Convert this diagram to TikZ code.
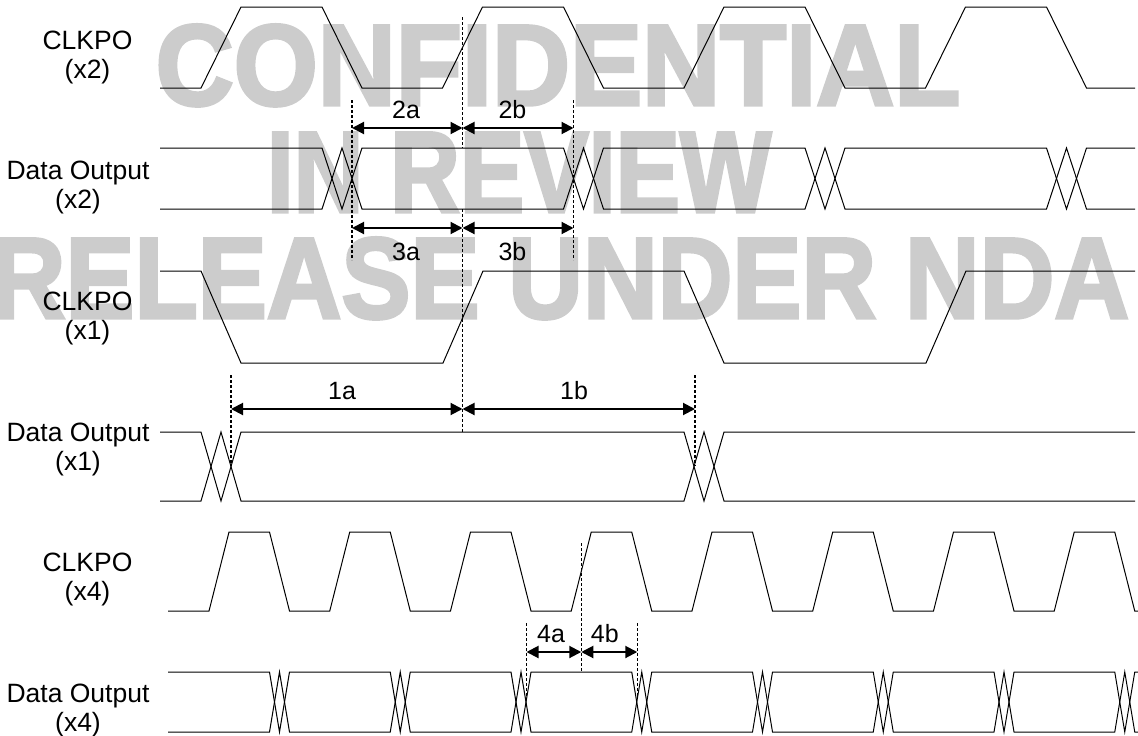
\documentclass[tikz,border=0pt]{standalone}
\usepackage{fontspec}
\setmainfont{Liberation Sans}
\newfontfamily\stampfont{Liberation Sans}[FakeBold=3]
\usepackage{graphicx}
\usepackage{tikz}
\usetikzlibrary{arrows.meta}

\begin{document}
\begin{tikzpicture}[x=1pt,y=-1pt,
    wave/.style={black,line width=1pt},
    guide/.style={black,line width=1.4pt,dash pattern=on 3pt off 2pt},
    dim/.style={black,line width=2pt,{Triangle[length=12pt,width=12pt]}-{Triangle[length=12pt,width=12pt]}},
    sig/.style={align=center,inner sep=0pt,font=\fontsize{26.5}{29}\selectfont},
    tlabel/.style={anchor=base,inner sep=0pt,font=\fontsize{25}{28}\selectfont},
    stamp/.style={anchor=base,inner sep=0pt,text=black!20,font=\fontsize{115}{120}\selectfont\stampfont\bfseries}]
  \useasboundingbox (0,0) rectangle (1138,736);

  % watermark
  \node[stamp] (wmA) at (558,105) {\scalebox{0.94}[1]{CONFIDENTIAL}};
  \node[stamp] (wmB) at (519,212) {\scalebox{0.84}[1]{IN REVIEW}};
  \node[stamp] (wmC) at (560,318) {\scalebox{0.9}[1]{RELEASE UNDER NDA}};

  % signal names
  \node[sig] (clkA) at (87.5,57)  {CLKPO\\(x2)};
  \node[sig] (datA) at (78,187)   {Data Output\\(x2)};
  \node[sig] (clkB) at (87.5,318) {CLKPO\\(x1)};
  \node[sig] (datB) at (78,449)   {Data Output\\(x1)};
  \node[sig] (clkC) at (87.5,579) {CLKPO\\(x4)};
  \node[sig] (datC) at (78,710)   {Data Output\\(x4)};

  % x2
  \draw[wave] (160,88) foreach \k in {0,...,3} {
      -- ({201+241.5*\k},88) -- ({241+241.5*\k},7) -- ({322+241.5*\k},7) -- ({362+241.5*\k},88)} -- (1135,88);
  \draw[wave] (160,148) foreach \k in {0,...,3} {
      -- ({322+241.5*\k},148) -- ({342+241.5*\k},209) -- ({362+241.5*\k},148)} -- (1135,148);
  \draw[wave] (160,209) foreach \k in {0,...,3} {
      -- ({322+241.5*\k},209) -- ({342+241.5*\k},148) -- ({362+241.5*\k},209)} -- (1135,209);

  % x1
  \draw[wave] (160,271) -- (201,271) -- (241,363) -- (443,363) -- (483,271)
      -- (684,271) -- (724,363) -- (926,363) -- (966,271) -- (1135,271);
  \draw[wave] (160,432) foreach \k in {0,1} {
      -- ({201+483*\k},432) -- ({221+483*\k},501) -- ({241+483*\k},432)} -- (1135,432);
  \draw[wave] (160,501) foreach \k in {0,1} {
      -- ({201+483*\k},501) -- ({221+483*\k},432) -- ({241+483*\k},501)} -- (1135,501);

  % x4
  \draw[wave] (168,611) foreach \k in {0,...,7} {
      -- ({209+120.75*\k},611) -- ({229+120.75*\k},532) -- ({269.5+120.75*\k},532) -- ({289.5+120.75*\k},611)} -- (1138,611);
  \draw[wave] (168,672) foreach \k in {0,...,7} {
      -- ({269.5+120.75*\k},672) -- ({279.5+120.75*\k},732) -- ({289.5+120.75*\k},672)} -- (1138,672);
  \draw[wave] (168,732) foreach \k in {0,...,7} {
      -- ({269.5+120.75*\k},732) -- ({279.5+120.75*\k},672) -- ({289.5+120.75*\k},732)} -- (1138,732);

  % timing guides
  \foreach \x/\ya/\yb in {462.5/17/148, 462.5/209/432, 352/100/260, 573.5/100/260,
      231/375/466, 695/375/466, 526.5/623/697, 581.25/543/672, 637.25/623/697}
    \draw[guide] (\x,\ya) -- (\x,\yb);

  \coordinate (p2l) at (352,128);   \coordinate (p2m) at (462.5,128); \coordinate (p2r) at (573.5,128);
  \coordinate (p3l) at (352,228);   \coordinate (p3m) at (462.5,228); \coordinate (p3r) at (573.5,228);
  \coordinate (p1l) at (231,409);   \coordinate (p1m) at (462.5,409); \coordinate (p1r) at (695,409);
  \coordinate (p4l) at (526.5,652); \coordinate (p4m) at (581.25,652); \coordinate (p4r) at (637.25,652);

  \draw[dim] (p2l) -- node[tlabel,pos=0.49,yshift=10pt] (t2a) {2a} (p2m);
  \draw[dim] (p2m) -- node[tlabel,pos=0.45,yshift=10pt] (t2b) {2b} (p2r);
  \draw[dim] (p3l) -- node[tlabel,pos=0.49,yshift=-32pt] (t3a) {3a} (p3m);
  \draw[dim] (p3m) -- node[tlabel,pos=0.45,yshift=-32pt] (t3b) {3b} (p3r);
  \draw[dim] (p1l) -- node[tlabel,pos=0.48,yshift=10pt] (t1a) {1a} (p1m);
  \draw[dim] (p1m) -- node[tlabel,pos=0.48,yshift=10pt] (t1b) {1b} (p1r);
  \draw[dim] (p4l) -- node[tlabel,pos=0.45,yshift=10pt] (t4a) {4a} (p4m);
  \draw[dim] (p4m) -- node[tlabel,pos=0.42,yshift=10pt] (t4b) {4b} (p4r);
\end{tikzpicture}
\end{document}
